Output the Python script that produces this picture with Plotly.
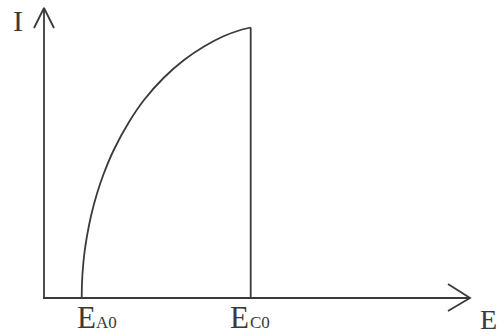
import plotly.graph_objects as go

# ---- data (arbitrary units; E horizontal, I vertical) ----
E_A0 = 3.77
E_C0 = 20.67
E_curve = [3.77, 3.8, 3.9, 4.05, 4.3, 4.7, 5.3, 6.0, 7.0, 8.5, 10.0, 12.0, 14.0, 16.0, 18.0, 19.5, 20.67]
I_curve = [0.0, 1.5, 3.1, 4.55, 6.2, 8.2, 10.45, 12.5, 14.85, 17.6, 19.8, 22.05, 23.8, 25.15, 26.2, 26.75, 27.05]
drop_E = [E_C0, E_C0]
drop_I = [I_curve[-1], 0.0]

axis_E_max = 42.6
axis_I_max = 29.0
axis_labels = ["I", "E"]
tick_main = ["E", "E"]
tick_sub = ["A0", "C0"]
tick_pos = [E_A0, E_C0]

# label placement (offsets from the marked position, in axis units)
main_dx = [0.45, -1.15]
sub_dx = [2.5, 0.95]

INK = "#3a3a3a"
SERIF = "Liberation Serif, Times New Roman, serif"

fig = go.Figure()

# curve
fig.add_trace(go.Scatter(x=E_curve, y=I_curve, mode="lines",
                         line=dict(color=INK, width=1.8, shape="spline", smoothing=0.6),
                         hoverinfo="skip", showlegend=False))
# vertical drop at E_C0
fig.add_trace(go.Scatter(x=drop_E, y=drop_I, mode="lines",
                         line=dict(color=INK, width=1.8),
                         hoverinfo="skip", showlegend=False))

# axes with open arrowheads
fig.add_trace(go.Scatter(x=[0, 0], y=[0, axis_I_max], mode="lines",
                         line=dict(color=INK, width=1.8), hoverinfo="skip", showlegend=False))
fig.add_trace(go.Scatter(x=[-1.0, 0, 1.0], y=[axis_I_max - 2.0, axis_I_max, axis_I_max - 2.0], mode="lines",
                         line=dict(color=INK, width=1.8), hoverinfo="skip", showlegend=False))
fig.add_trace(go.Scatter(x=[-0.1, axis_E_max], y=[0, 0], mode="lines",
                         line=dict(color=INK, width=1.8), hoverinfo="skip", showlegend=False))
fig.add_trace(go.Scatter(x=[axis_E_max - 2.2, axis_E_max, axis_E_max - 2.2], y=[1.4, 0, -1.3], mode="lines",
                         line=dict(color=INK, width=1.8), hoverinfo="skip", showlegend=False))

# labels
ann = []
ann.append(dict(x=-2.6, y=27.8, text=axis_labels[0], font=dict(family=SERIF, size=30, color=INK)))
ann.append(dict(x=44.45, y=-2.1, text=axis_labels[1], font=dict(family=SERIF, size=28, color=INK)))
for pos, m, s, mdx, sdx in zip(tick_pos, tick_main, tick_sub, main_dx, sub_dx):
    ann.append(dict(x=pos + mdx, y=-1.95, text=m, font=dict(family=SERIF, size=31, color=INK)))
    ann.append(dict(x=pos + sdx, y=-2.45, text=s, font=dict(family=SERIF, size=17, color=INK)))
for a in ann:
    a.update(xref="x", yref="y", showarrow=False, xanchor="center", yanchor="middle")

fig.update_layout(
    width=500, height=336,
    margin=dict(l=0, r=0, t=0, b=0),
    paper_bgcolor="white", plot_bgcolor="white",
    xaxis=dict(range=[-4.4, 45.6], visible=False, fixedrange=True),
    yaxis=dict(range=[-3.8, 29.8], visible=False, fixedrange=True),
    annotations=ann,
    showlegend=False,
)

fig.write_html("out.html", config={"displayModeBar": False},
               post_script="document.body.style.margin='0';document.body.style.overflow='hidden';")
